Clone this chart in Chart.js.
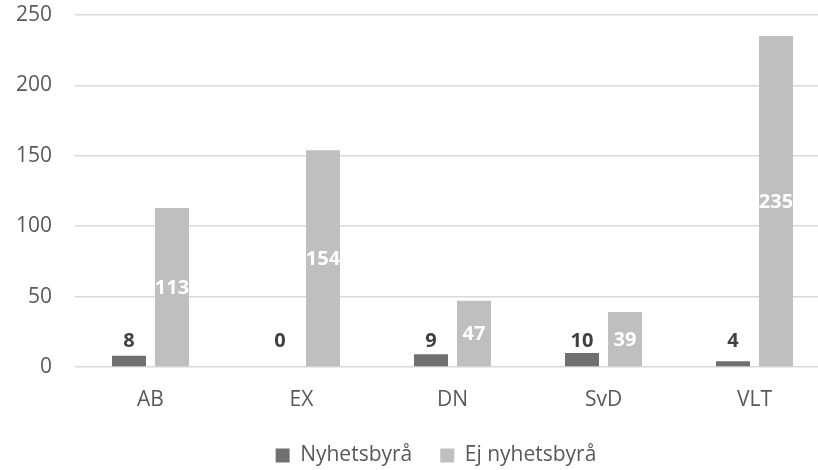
<!DOCTYPE html>
<html lang="sv">
<head>
	<meta charset="UTF-8">
	<title>Nyhetsbyrå</title>
	<script src="https://cdn.jsdelivr.net/npm/chart.js@4/dist/chart.umd.min.js"></script>
	<style>
		body,html{padding:0;margin:0;background:#fff;}
		/* plot runs past the right edge, as in the original crop */
		#wrap{width:818px;height:470px;overflow:hidden;}
	</style>
</head>
<body>
	<div id="wrap"><canvas id="myChart" width="830" height="470"></canvas></div>
	<script>
		var categories = ['AB','EX','DN','SvD','VLT'];
		var nyhetsbyra = [8,0,9,10,4];
		var ejNyhetsbyra = [113,154,47,39,235];
		var yTicks = [0,50,100,150,200,250];

		// value labels: dark series above the base, light series centred in the bar
		var labelPlugin = {
			id:'valueLabels',
			afterDatasetsDraw:function(chart){
				var ctx = chart.ctx;
				var zero = chart.scales.y.getPixelForValue(0);
				ctx.save();
				ctx.font = 'bold 20px "Open Sans"';
				ctx.textAlign = 'center';
				ctx.textBaseline = 'middle';
				chart.getDatasetMeta(0).data.forEach(function(bar,i){
					ctx.fillStyle = '#404040';
					ctx.fillText(nyhetsbyra[i], bar.x, zero - 26);
				});
				chart.getDatasetMeta(1).data.forEach(function(bar,i){
					ctx.fillStyle = '#ffffff';
					ctx.fillText(ejNyhetsbyra[i], bar.x, (bar.y + bar.base)/2 + 1);
				});
				ctx.restore();
			}
		};

		// nudge the legend to where the original had it
		var legendShift = {
			id:'legendShift',
			afterLayout:function(chart){
				var lg = chart.legend;
				lg.left += 21; lg.right += 21;
				lg.top += 6; lg.bottom += 6;
			}
		};

		Chart.defaults.font.family = '"Open Sans", sans-serif';
		Chart.defaults.color = '#595959';

		new Chart(document.getElementById('myChart').getContext('2d'),{
			type:'bar',
			data:{
				labels:categories,
				datasets:[{
					label:'Nyhetsbyrå',
					data:nyhetsbyra,
					backgroundColor:'#707070'
				},{
					label:'Ej nyhetsbyrå',
					data:ejNyhetsbyra,
					backgroundColor:'#bfbfbf'
				}]
			},
			options:{
				responsive:false,
				animation:false,
				layout:{padding:{left:0,right:0,top:15,bottom:0}},
				datasets:{bar:{categoryPercentage:0.57,barPercentage:0.79}},
				scales:{
					x:{
						grid:{display:false},
						border:{display:false},
						afterFit:function(axis){
							axis.height = 44;
							axis.paddingLeft = 0; axis.paddingRight = 0;
						},
						ticks:{font:{size:21},padding:12,color:'#595959'}
					},
					y:{
						min:0,max:250,
						afterBuildTicks:function(axis){
							axis.ticks = yTicks.map(function(v){return {value:v};});
						},
						afterFit:function(axis){
							axis.width = 75;
							axis.paddingTop = 0; axis.paddingBottom = 0;
						},
						grid:{color:'#d9d9d9',lineWidth:1.5,drawTicks:false},
						border:{display:false},
						ticks:{font:{size:21},padding:23,color:'#595959'}
					}
				},
				plugins:{
					legend:{
						position:'bottom',
						labels:{
							boxWidth:14,boxHeight:14,padding:28,
							font:{size:21},color:'#595959'
						}
					},
					tooltip:{enabled:false}
				}
			},
			plugins:[labelPlugin,legendShift]
		});
	</script>
</body>
</html>
